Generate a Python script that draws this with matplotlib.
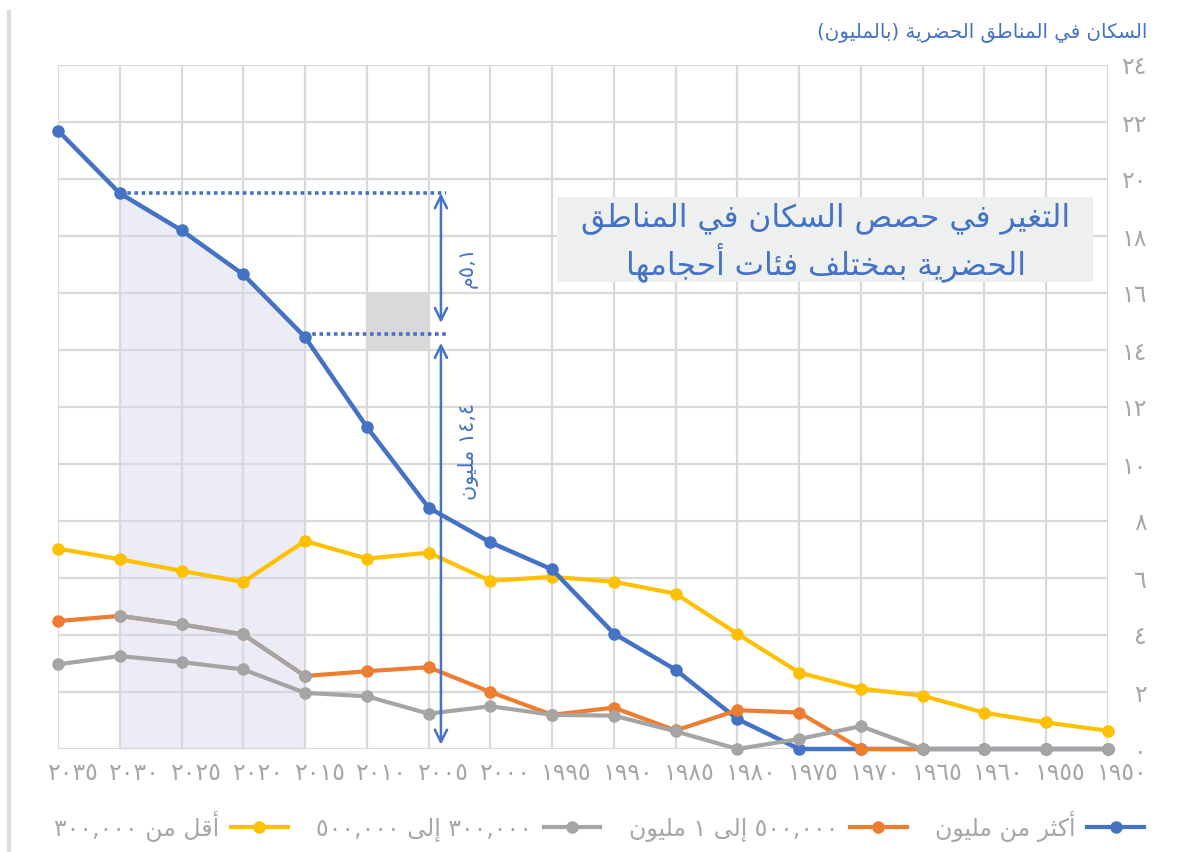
import re
import matplotlib
matplotlib.use("Agg")
import matplotlib.pyplot as plt
import matplotlib.transforms as mtransforms
from matplotlib.lines import Line2D
from matplotlib.patches import Rectangle

plt.rcParams['font.family'] = ['DejaVu Sans']

# ── Data ───────────────────────────────────────────────────
years = [1950, 1955, 1960, 1965, 1970, 1975, 1980, 1985, 1990,
         1995, 2000, 2005, 2010, 2015, 2020, 2025, 2030, 2035]
over_1m = [0, 0, 0, 0, 0, 0, 1.05, 2.78, 4.05,
           6.3, 7.25, 8.47, 11.3, 14.45, 16.65, 18.2, 19.5, 21.7]
from_500k_1m = [0, 0, 0, 0, 0, 1.28, 1.36, 0.65, 1.45,
                1.2, 2.0, 2.87, 2.73, 2.56, 4.02, 4.37, 4.67, 4.49]
from_300k_500k = [0, 0, 0, 0, 0.8, 0.35, 0, 0.62, 1.17,
                  1.2, 1.5, 1.24, 1.85, 1.97, 2.79, 3.05, 3.26, 2.97]
under_300k = [0.64, 0.93, 1.27, 1.87, 2.12, 2.68, 4.04, 5.45, 5.87,
              6.04, 5.9, 6.89, 6.68, 7.3, 5.86, 6.25, 6.66, 7.03]

y_ticks = list(range(0, 25, 2))

title = "السكان في المناطق الحضرية (بالمليون)"
box_lines = ["التغير في حصص السكان في المناطق", "الحضرية بمختلف فئات أحجامها"]
gap_label = "٥,١م"
base_label = "١٤,٤ مليون"
labels = ["أكثر من مليون", "٥٠٠,٠٠٠ إلى ١ مليون",
          "٣٠٠,٠٠٠ إلى ٥٠٠,٠٠٠", "أقل من ٣٠٠,٠٠٠"]

BLUE, ORANGE, GRAY, YELLOW = "#4472c4", "#ed7d31", "#a5a5a5", "#ffc000"
TXT = "#a6a6a6"

# ── Arabic shaping (matplotlib does no shaping / bidi) ─────
_LETTERS = "ءآأؤإئابةتثجحخدذرزسشصضطظعغفقكلمنهوىي"
_NFORMS = [1, 2, 2, 2, 2, 4, 2, 4, 2, 4, 4, 4, 4, 4, 2, 2, 2, 2, 4, 4,
           4, 4, 4, 4, 4, 4, 4, 4, 4, 4, 4, 4, 4, 2, 2, 4]
FORMS = {}
_cp = 0xFE80
for _ch, _n in zip(_LETTERS, _NFORMS):
    FORMS[_ch] = (_cp, _n)
    _cp += _n
LAM_ALEF = {"آ": 0xFEF5, "أ": 0xFEF7, "إ": 0xFEF9, "ا": 0xFEFB}


def _jtype(item):
    if isinstance(item, tuple):
        return "R"
    if item in FORMS:
        return {4: "D", 2: "R", 1: "U"}[FORMS[item][1]]
    return "U"


def shape(text):
    seq, i = [], 0
    while i < len(text):
        if text[i] == "ل" and i + 1 < len(text) and text[i + 1] in LAM_ALEF:
            seq.append(("LA", text[i + 1]))
            i += 2
        else:
            seq.append(text[i])
            i += 1
    out = []
    for k, item in enumerate(seq):
        t = _jtype(item)
        jp = t in "DR" and k > 0 and _jtype(seq[k - 1]) == "D"
        jn = t == "D" and k + 1 < len(seq) and _jtype(seq[k + 1]) in "DR"
        if isinstance(item, tuple):
            out.append(chr(LAM_ALEF[item[1]] + (1 if jp else 0)))
        elif item in FORMS:
            base, n = FORMS[item]
            if n == 4:
                out.append(chr(base + [[0, 2], [1, 3]][jp][jn]))
            elif n == 2:
                out.append(chr(base + (1 if jp else 0)))
            else:
                out.append(chr(base))
        else:
            out.append(item)
    return "".join(out)


def ar(text):
    s = shape(text)[::-1]
    s = re.sub(r"[٠-٩0-9][٠-٩0-9,.]*", lambda m: m.group(0)[::-1], s)
    return s.translate(str.maketrans("()", ")("))


def ar_digits(v):
    return str(v).translate(str.maketrans("0123456789", "٠١٢٣٤٥٦٧٨٩"))


# ── Chart ──────────────────────────────────────────────────
fig = plt.figure(figsize=(11.81, 8.52), dpi=100)
ax = fig.add_axes([58 / 1181, 103 / 852, 1050 / 1181, 684 / 852])
ax.set_xlim(2035, 1950)
ax.set_ylim(0, 24)

ax.set_xticks(years)
ax.set_xticklabels([ar_digits(y) for y in years], fontsize=17, color=TXT)
ax.yaxis.tick_right()
ax.set_yticks(y_ticks)
ax.set_yticklabels([ar_digits(v) for v in y_ticks], fontsize=17, color=TXT)
ax.tick_params(length=0)
ax.tick_params(axis="x", pad=9)
ax.tick_params(axis="y", pad=28)
for lbl in ax.get_yticklabels():
    lbl.set_horizontalalignment("right")
offset = mtransforms.ScaledTranslation(0.14, 0, fig.dpi_scale_trans)
for lbl in ax.get_xticklabels():
    lbl.set_transform(lbl.get_transform() + offset)

for s in ax.spines.values():
    s.set_visible(False)
ax.grid(True, color="#d9d9d9", lw=1.6)
ax.set_axisbelow(True)

# shaded period under the >1M curve
ax.fill_between(years[13:17], 0, over_1m[13:17], color="#d5d5ec",
                alpha=0.45, lw=0, zorder=1)
ax.add_patch(Rectangle((2005, 14), 5, 2, color="#d9d9d9", lw=0, zorder=1))

series = [(under_300k, YELLOW, 3), (over_1m, BLUE, 4),
          (from_500k_1m, ORANGE, 5), (from_300k_500k, GRAY, 6)]
for values, color, z in series:
    ax.plot(years, values, color=color, lw=3.2 if color == BLUE else 3,
            marker="o", ms=8, clip_on=False, zorder=z)
# 500k-1M segment in the shaded period is drawn grey
ax.plot(years[13:17], from_500k_1m[13:17], color=GRAY, lw=3, marker="o",
        ms=8, zorder=6)

# annotation: gap between 2030 and 2015
ax.plot([2030, 2003.6], [over_1m[16]] * 2, ls=(0, (1, 1)), lw=2.6, color=BLUE, zorder=7)
ax.plot([2015, 2003.6], [14.56] * 2, ls=(0, (1, 1)), lw=2.6, color=BLUE, zorder=7)
arrow = dict(arrowstyle="<->", color=BLUE, lw=1.8, mutation_scale=22,
             shrinkA=0, shrinkB=0)
ax.annotate("", xy=(2004, over_1m[16]), xytext=(2004, 14.95), arrowprops=arrow, zorder=7)
ax.annotate("", xy=(2004, 14.25), xytext=(2004, 0.15), arrowprops=arrow, zorder=7)
ax.text(2001.8, 16.9, ar(gap_label), rotation=90, color=BLUE, fontsize=15,
        ha="center", va="center")
ax.text(2001.8, 10.45, ar(base_label), rotation=90, color=BLUE, fontsize=15,
        ha="center", va="center")

# text box
fig.patches.append(Rectangle((557 / 1181, 570 / 852), 536 / 1181, 85 / 852,
                             transform=fig.transFigure, facecolor="#eef0ef",
                             edgecolor="none", zorder=2))
fig.text(826 / 1181, 1 - 218 / 852, ar(box_lines[0]), ha="center", va="center",
         fontsize=22.5, color=BLUE, zorder=3)
fig.text(826 / 1181, 1 - 262 / 852, ar(box_lines[1]), ha="center", va="center",
         fontsize=22.5, color=BLUE, zorder=3)

fig.text(1147 / 1181, 1 - 33 / 852, ar(title), ha="right", va="center",
         fontsize=14.2, color=BLUE)

handles = [Line2D([], [], color=c, lw=3, marker="o", ms=8)
           for c in (YELLOW, GRAY, ORANGE, BLUE)]
fig.legend(handles, [ar(t) for t in labels[::-1]], loc="center",
           bbox_to_anchor=(599 / 1181, 1 - 826 / 852), ncol=4, frameon=False,
           markerfirst=False, fontsize=17, labelcolor=TXT, handlelength=2.4,
           handletextpad=0.5, columnspacing=1.2)

fig.add_artist(Line2D([9 / 1181] * 2, [0, 1 - 12 / 852], color="#dddddd", lw=3,
                      transform=fig.transFigure))

fig.savefig("out.png", dpi=100)
plt.close(fig)
